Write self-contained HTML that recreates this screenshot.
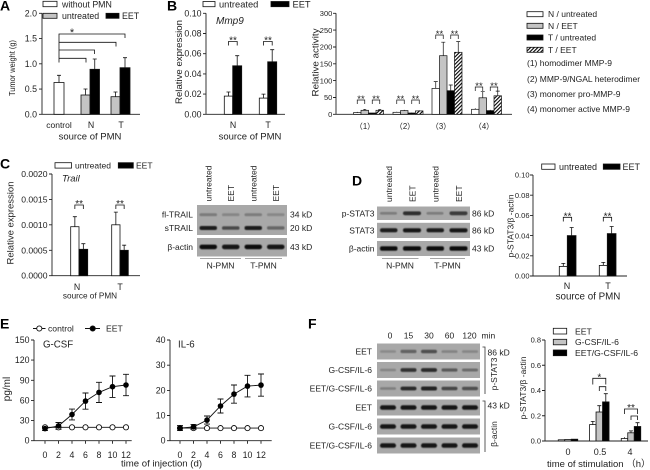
<!DOCTYPE html>
<html><head><meta charset="utf-8"><style>
html,body{margin:0;padding:0;background:#fff}
svg{display:block}
text{font-family:"Liberation Sans",Arial,"Noto Sans CJK SC",sans-serif;fill:#222}
.L{font-weight:bold;font-size:14px;fill:#000}
.tk{font-size:8.8px}
.m{text-anchor:middle}
.e{text-anchor:end}
</style></head><body>
<svg width="650" height="470" viewBox="0 0 650 470" xmlns="http://www.w3.org/2000/svg">
<defs>
<pattern id="h" width="2.6" height="2.6" patternUnits="userSpaceOnUse" patternTransform="rotate(45)"><rect width="2.6" height="2.6" fill="#fff"/><rect width="1.1" height="2.6" fill="#000"/></pattern>
<filter id="bl" x="-20%" y="-80%" width="140%" height="260%"><feGaussianBlur stdDeviation="0.55"/></filter>
</defs>

<!-- ================= PANEL A ================= -->
<text class="L" x="0" y="10.5">A</text>
<g stroke="#111" stroke-width="0.8">
<rect x="43" y="1.3" width="14" height="5.4" fill="#fff"/>
<rect x="43" y="13.3" width="14" height="5" fill="#c4c4c4"/>
<rect x="106" y="13.3" width="13" height="5" fill="#000"/>
</g>
<text x="62" y="7.6" font-size="8.8">without PMN</text>
<text x="62" y="18.9" font-size="8.8">untreated</text>
<text x="122" y="18.9" font-size="8.8">EET</text>
<g stroke="#222" stroke-width="0.9" fill="none">
<path d="M42 13.3V114.3H140M39 13.3H42M39 38.6H42M39 63.8H42M39 89.1H42M39 114.3H42"/>
</g>
<g class="tk e">
<text x="37" y="16.3" class="e">2.0</text><text x="37" y="41.6" class="e">1.5</text><text x="37" y="66.8" class="e">1.0</text><text x="37" y="92.1" class="e">0.5</text><text x="37" y="117.3" class="e">0.0</text>
</g>
<g stroke="#111" stroke-width="0.8">
<rect x="54" y="82.5" width="10" height="31.8" fill="#fff"/>
<rect x="81" y="95" width="9" height="19.3" fill="#c4c4c4"/>
<rect x="90" y="69.3" width="9.5" height="45" fill="#000"/>
<rect x="111" y="96.7" width="9" height="17.6" fill="#c4c4c4"/>
<rect x="120" y="67.7" width="10" height="46.6" fill="#000"/>
<path fill="none" d="M59 82.5V75.3M57 75.3H61M85.5 95V89M83.5 89H87.5M94.75 69.3V59M92.75 59H96.75M115.5 96.7V92M113.5 92H117.5M125 67.7V57.7M123 57.7H127"/>
<path fill="none" d="M59 62.5V34H125V38M59 42.3H116V46.5M59 50H94.5V54M59 58.3H86V62.5"/>
</g>
<text x="72" y="36" font-size="11" class="m">*</text>
<text x="59" y="128" font-size="8.5" class="m">control</text>
<text x="91" y="128" font-size="8.8" class="m">N</text>
<text x="121" y="128" font-size="8.8" class="m">T</text>
<text x="90" y="139.5" font-size="9.5" class="m">source of PMN</text>
<text transform="translate(15,68) rotate(-90)" font-size="8.6" class="m" textLength="56" lengthAdjust="spacingAndGlyphs">Tumor weight (g)</text>

<!-- ================= PANEL B left ================= -->
<text class="L" x="167" y="10.5">B</text>
<g stroke="#111" stroke-width="0.8">
<rect x="203" y="1.5" width="12" height="5.2" fill="#fff"/>
<rect x="271" y="1.5" width="18" height="5.2" fill="#000"/>
</g>
<text x="219" y="7.6" font-size="9.3">untreated</text>
<text x="292.5" y="7.6" font-size="9.3">EET</text>
<g stroke="#222" stroke-width="0.9" fill="none">
<path d="M206 13.3V114.3H285M203 13.3H206M203 33.5H206M203 53.7H206M203 73.9H206M203 94.1H206M203 114.3H206"/>
</g>
<g class="tk">
<text x="201.5" y="16.3" class="e">0.10</text><text x="201.5" y="36.5" class="e">0.08</text><text x="201.5" y="56.7" class="e">0.06</text><text x="201.5" y="76.9" class="e">0.04</text><text x="201.5" y="97.1" class="e">0.02</text><text x="201.5" y="117.3" class="e">0.00</text>
</g>
<g stroke="#111" stroke-width="0.8">
<rect x="224.3" y="96.1" width="8.4" height="18.2" fill="#fff"/>
<rect x="232.7" y="65.8" width="9" height="48.5" fill="#000"/>
<rect x="259.3" y="98.1" width="8.4" height="16.2" fill="#fff"/>
<rect x="267.7" y="61.8" width="9" height="52.5" fill="#000"/>
<path fill="none" d="M228.5 96.1V92M226.5 92H230.5M237.2 65.8V55.7M235.2 55.7H239.2M263.5 98.1V94.1M261.5 94.1H265.5M272.2 61.8V49.7M270.2 49.7H274.2"/>
<path fill="none" d="M228.5 45.5V41.5H237.2V45.5M263.5 45.5V41.5H272.2V45.5"/>
</g>
<text x="233" y="43.5" font-size="10" class="m">**</text>
<text x="268" y="43.5" font-size="10" class="m">**</text>
<text x="216" y="24" font-size="10" font-style="italic">Mmp9</text>
<text x="233" y="128" font-size="8.8" class="m">N</text>
<text x="268" y="128" font-size="8.8" class="m">T</text>
<text x="250" y="139.5" font-size="9.5" class="m">source of PMN</text>
<text transform="translate(182,62) rotate(-90)" font-size="9.5" class="m" textLength="84" lengthAdjust="spacingAndGlyphs">Relative expression</text>

<!-- ================= PANEL B right ================= -->
<g stroke="#222" stroke-width="0.9" fill="none">
<path d="M336 13.3V114.3H512M333 13.3H336M333 30.1H336M333 47H336M333 63.8H336M333 80.6H336M333 97.5H336M333 114.3H336"/>
</g>
<g font-size="7.5">
<text x="332.3" y="16" class="e">300</text><text x="332.3" y="32.8" class="e">250</text><text x="332.3" y="49.7" class="e">200</text><text x="332.3" y="66.5" class="e">150</text><text x="332.3" y="83.3" class="e">100</text><text x="332.3" y="100.2" class="e">50</text><text x="332.3" y="117" class="e">0</text>
</g>
<text transform="translate(318.5,62.5) rotate(-90)" font-size="9.5" class="m" textLength="68" lengthAdjust="spacingAndGlyphs">Relative activity</text>
<g stroke="#111" stroke-width="0.7">
<rect x="353.5" y="112.6" width="7.5" height="1.7" fill="#fff"/>
<rect x="361" y="110.3" width="7.5" height="4" fill="#c4c4c4"/>
<rect x="368.5" y="113" width="7.5" height="1.3" fill="#000"/>
<rect x="376" y="110.3" width="7.5" height="4" fill="url(#h)"/>
<rect x="393" y="112.3" width="7.5" height="2" fill="#fff"/>
<rect x="400.5" y="110.6" width="7.5" height="3.7" fill="#c4c4c4"/>
<rect x="408" y="113" width="7.5" height="1.3" fill="#000"/>
<rect x="415.5" y="110.9" width="7.5" height="3.4" fill="url(#h)"/>
<rect x="432" y="88.4" width="7.5" height="25.9" fill="#fff"/>
<rect x="439.5" y="55.7" width="7.5" height="58.6" fill="#c4c4c4"/>
<rect x="447" y="90.7" width="7.5" height="23.6" fill="#000"/>
<rect x="454.5" y="52.3" width="7.5" height="62" fill="url(#h)"/>
<rect x="471.5" y="109.3" width="7.5" height="5" fill="#fff"/>
<rect x="479" y="97.8" width="7.5" height="16.5" fill="#c4c4c4"/>
<rect x="486.5" y="110.6" width="7.5" height="3.7" fill="#000"/>
<rect x="494" y="95.8" width="7.5" height="18.5" fill="url(#h)"/>
<path fill="none" d="M357.25 112.6V111.9M364.75 110.3V109.3M363.25 109.3H366.25M379.75 110.3V109.6M378.25 109.6H381.25
M396.75 112.3V111.8M404.25 110.6V109.9M411.75 113V112.6M419.25 110.9V110.3
M435.75 88.4V81.6M433.75 81.6H437.75M443.25 55.7V42.2M441.25 42.2H445.25M450.75 90.7V85M448.75 85H452.75M458.25 52.3V41.6M456.25 41.6H460.25
M475.25 109.3V108.2M482.75 97.8V91.7M480.75 91.7H484.75M490.25 110.6V109.9M497.75 95.8V91.1M495.75 91.1H499.75"/>
<path fill="none" d="M357.25 104V100H364.75V104M372.25 104V100H379.75V104M396.75 104V100H404.25V104M411.75 104V100H419.25V104
M435.75 39V35H443.25V39M450.75 39V35H458.25V39M475.25 91V87H482.75V91M490.25 91V87H497.75V91"/>
</g>
<g font-size="9.5" class="m">
<text x="361" y="102" class="m">**</text><text x="376" y="102" class="m">**</text>
<text x="400.5" y="102" class="m">**</text><text x="415.5" y="102" class="m">**</text>
<text x="439.5" y="37" class="m">**</text><text x="454.5" y="37" class="m">**</text>
<text x="479" y="89" class="m">**</text><text x="494" y="89" class="m">**</text>
</g>
<g font-size="7.8">
<text x="365" y="129" class="m">（1）</text><text x="405" y="129" class="m">（2）</text><text x="441" y="129" class="m">（3）</text><text x="484" y="129" class="m">（4）</text>
</g>
<g stroke="#111" stroke-width="0.8">
<rect x="527" y="11.7" width="16" height="5" fill="#fff"/>
<rect x="527" y="23.3" width="16" height="5" fill="#c4c4c4"/>
<rect x="527" y="35" width="16" height="5" fill="#000"/>
<rect x="527" y="47.3" width="16" height="5" fill="url(#h)"/>
</g>
<g font-size="8.5">
<text x="548" y="17.2">N / untreated</text>
<text x="548" y="28.8">N / EET</text>
<text x="548" y="40.5">T / untreated</text>
<text x="548" y="52.8">T / EET</text>
<text x="527" y="66">(1) homodimer MMP-9</text>
<text x="527" y="82">(2) MMP-9/NGAL heterodimer</text>
<text x="527" y="97">(3) monomer pro-MMP-9</text>
<text x="527" y="112">(4) monomer active MMP-9</text>
</g>

<!-- ================= PANEL C ================= -->
<text class="L" x="0" y="168.5">C</text>
<g stroke="#111" stroke-width="0.8">
<rect x="55" y="162.7" width="16.5" height="5.4" fill="#fff"/>
<rect x="118.3" y="162.7" width="15" height="5.4" fill="#000"/>
</g>
<text x="75" y="168.6" font-size="8.5">untreated</text>
<text x="136" y="168.6" font-size="8.5">EET</text>
<text x="62" y="181.5" font-size="9.5" font-style="italic">Trail</text>
<g stroke="#222" stroke-width="0.9" fill="none">
<path d="M52 174V275.7H140M49 174H52M49 199.4H52M49 224.8H52M49 250.3H52M49 275.7H52"/>
</g>
<g font-size="8.6">
<text x="47.5" y="177" class="e">0.0020</text><text x="47.5" y="202.4" class="e">0.0015</text><text x="47.5" y="227.8" class="e">0.0010</text><text x="47.5" y="253.3" class="e">0.0005</text><text x="47.5" y="278.7" class="e">0.0000</text>
</g>
<g stroke="#111" stroke-width="0.8">
<rect x="70.7" y="226.7" width="8.3" height="49" fill="#fff"/>
<rect x="79" y="249.3" width="8.7" height="26.4" fill="#000"/>
<rect x="111.7" y="224.8" width="8.3" height="50.9" fill="#fff"/>
<rect x="120" y="250.3" width="8.3" height="25.4" fill="#000"/>
<path fill="none" d="M74.85 226.7V216.7M72.85 216.7H76.85M83.35 249.3V243.7M81.35 243.7H85.35M115.85 224.8V212.1M113.85 212.1H117.85M124.15 250.3V245.2M122.15 245.2H126.15"/>
<path fill="none" d="M74.85 209V205H83.35V209M115.85 209V205H124.15V209"/>
</g>
<text x="79.1" y="207" font-size="10" class="m">**</text>
<text x="120" y="207" font-size="10" class="m">**</text>
<text x="77" y="290" font-size="8.8" class="m">N</text>
<text x="120" y="290" font-size="8.8" class="m">T</text>
<text x="90" y="298.5" font-size="8.2" class="m">source of PMN</text>
<text transform="translate(13.5,223) rotate(-90)" font-size="9.5" class="m" textLength="83" lengthAdjust="spacingAndGlyphs">Relative expression</text>

<!-- C blot -->
<rect x="197" y="205" width="90" height="30" fill="#a8a8a8"/>
<rect x="197" y="238" width="90" height="18.5" fill="#a8a8a8"/>
<g filter="url(#bl)">
<rect x="199.5" y="213.3" width="17.5" height="2.8" rx="1.4" fill="#7a7a7a"/>
<rect x="222" y="213.3" width="17.5" height="2.8" rx="1.4" fill="#868686"/>
<rect x="244.5" y="213.3" width="17.5" height="2.8" rx="1.4" fill="#7c7c7c"/>
<rect x="267" y="213.3" width="17.5" height="2.8" rx="1.4" fill="#888"/>
<rect x="199.5" y="226" width="17.5" height="4" rx="2" fill="#1c1c1c"/>
<rect x="222" y="226.3" width="17.5" height="3.5" rx="1.7" fill="#4a4a4a"/>
<rect x="244.5" y="226" width="17.5" height="4" rx="2" fill="#1c1c1c"/>
<rect x="267" y="226.3" width="17.5" height="3.3" rx="1.6" fill="#666"/>
<rect x="199.5" y="244.6" width="17.5" height="4.6" rx="2.2" fill="#111"/>
<rect x="222" y="244.6" width="17.5" height="4.6" rx="2.2" fill="#141414"/>
<rect x="244.5" y="244.6" width="17.5" height="4.6" rx="2.2" fill="#111"/>
<rect x="267" y="244.6" width="17.5" height="4.6" rx="2.2" fill="#141414"/>
</g>
<g font-size="8.5">
<text x="193" y="217.5" class="e">fl-TRAIL</text>
<text x="193" y="231" class="e">sTRAIL</text>
<text x="193" y="250" class="e">β-actin</text>
<text x="290" y="217.5">34 kD</text>
<text x="290" y="231">20 kD</text>
<text x="290" y="250">43 kD</text>
<text transform="translate(211.5,201.5) rotate(-90)">untreated</text>
<text transform="translate(234,201.5) rotate(-90)">EET</text>
<text transform="translate(256.5,201.5) rotate(-90)">untreated</text>
<text transform="translate(279,201.5) rotate(-90)">EET</text>
<text x="220.5" y="268.5" class="m">N-PMN</text>
<text x="263.5" y="268.5" class="m">T-PMN</text>
</g>
<path d="M200 258.5H241M245 258.5H282" stroke="#888" stroke-width="0.8"/>

<!-- ================= PANEL D ================= -->
<text class="L" x="352" y="185.5">D</text>
<rect x="377" y="206.5" width="93" height="13.5" fill="#a8a8a8"/>
<rect x="377" y="222.8" width="93" height="15.2" fill="#a8a8a8"/>
<rect x="377" y="241" width="93" height="15" fill="#a8a8a8"/>
<g filter="url(#bl)">
<rect x="380" y="212" width="17" height="2.6" rx="1.3" fill="#7c7c7c"/>
<rect x="403" y="211.4" width="18" height="3.8" rx="1.9" fill="#2e2e2e"/>
<rect x="426.5" y="212" width="17" height="2.6" rx="1.3" fill="#7c7c7c"/>
<rect x="449.5" y="211.4" width="18" height="3.8" rx="1.9" fill="#3a3a3a"/>
<rect x="380" y="228.3" width="17.5" height="4" rx="2" fill="#1c1c1c"/>
<rect x="403" y="228.2" width="18" height="4.2" rx="2" fill="#141414"/>
<rect x="426.5" y="228.3" width="17.5" height="4" rx="2" fill="#1c1c1c"/>
<rect x="449.5" y="228.2" width="18" height="4.2" rx="2" fill="#141414"/>
<rect x="380" y="246.3" width="17.5" height="4.4" rx="2" fill="#111"/>
<rect x="403" y="246.3" width="18" height="4.4" rx="2" fill="#111"/>
<rect x="426.5" y="246.3" width="17.5" height="4.4" rx="2" fill="#111"/>
<rect x="449.5" y="246.3" width="18" height="4.4" rx="2" fill="#111"/>
</g>
<g font-size="8.5">
<text x="374.5" y="216.5" class="e">p-STAT3</text>
<text x="374.5" y="233.5" class="e">STAT3</text>
<text x="374.5" y="251.5" class="e">β-actin</text>
<text x="472" y="216.5">86 kD</text>
<text x="472" y="233.5">86 kD</text>
<text x="472" y="251.5">43 kD</text>
<text transform="translate(392,202) rotate(-90)">untreated</text>
<text transform="translate(415.5,202) rotate(-90)">EET</text>
<text transform="translate(438.5,202) rotate(-90)">untreated</text>
<text transform="translate(462,202) rotate(-90)">EET</text>
<text x="400" y="268.5" class="m">N-PMN</text>
<text x="447.5" y="268.5" class="m">T-PMN</text>
</g>
<path d="M382 258.5H418.5M430 258.5H465" stroke="#888" stroke-width="0.8"/>

<!-- D chart -->
<g stroke="#111" stroke-width="0.8">
<rect x="541.7" y="164" width="13.3" height="5.3" fill="#fff"/>
<rect x="603.3" y="164" width="16.7" height="5.3" fill="#000"/>
</g>
<text x="559" y="169.8" font-size="9">untreated</text>
<text x="622.5" y="169.8" font-size="9">EET</text>
<g stroke="#222" stroke-width="0.9" fill="none">
<path d="M533 175V276H627M530 175H533M530 195.2H533M530 215.4H533M530 235.6H533M530 255.8H533M530 276H533"/>
</g>
<g font-size="7.5">
<text x="529.5" y="177.7" class="e">0.10</text><text x="529.5" y="197.9" class="e">0.08</text><text x="529.5" y="218.1" class="e">0.06</text><text x="529.5" y="238.3" class="e">0.04</text><text x="529.5" y="258.5" class="e">0.02</text><text x="529.5" y="278.7" class="e">0.00</text>
</g>
<g stroke="#111" stroke-width="0.8">
<rect x="559.3" y="266.4" width="8" height="9.6" fill="#fff"/>
<rect x="567.3" y="235.6" width="8.7" height="40.4" fill="#000"/>
<rect x="599.3" y="265.4" width="8" height="10.6" fill="#fff"/>
<rect x="607.3" y="233.6" width="8.7" height="42.4" fill="#000"/>
<path fill="none" d="M563.3 266.4V263.4M561.3 263.4H565.3M571.65 235.6V227.5M569.65 227.5H573.65M603.3 265.4V262.4M601.3 262.4H605.3M611.65 233.6V226.5M609.65 226.5H613.65"/>
<path fill="none" d="M563.3 221.5V217.3H571.65V221.5M603.3 221.5V217.3H611.65V221.5"/>
</g>
<text x="567.5" y="219.3" font-size="10" class="m">**</text>
<text x="607.5" y="219.3" font-size="10" class="m">**</text>
<text x="567" y="289" font-size="9" class="m">N</text>
<text x="608" y="289" font-size="9" class="m">T</text>
<text x="588" y="299.5" font-size="9.8" class="m">source of PMN</text>
<text transform="translate(513.5,226) rotate(-90)" font-size="8.6" class="m" textLength="63" lengthAdjust="spacingAndGlyphs">p-STAT3/β -actin</text>

<!-- ================= PANEL E ================= -->
<text class="L" x="0" y="328.5">E</text>
<g stroke="#111" stroke-width="0.9">
<path d="M33 328.5H45.5M85 328.5H100"/>
<circle cx="39.3" cy="328.5" r="2.6" fill="#fff"/>
<circle cx="92.7" cy="328.5" r="2.6" fill="#000"/>
</g>
<text x="48" y="331.5" font-size="8.6">control</text>
<text x="106" y="331.5" font-size="8.6">EET</text>

<g stroke="#222" stroke-width="0.9" fill="none">
<path d="M34 340V440.7H131.7M31 340H34M31 360.1H34M31 380.3H34M31 400.4H34M31 420.6H34M31 440.7H34"/>
<path d="M45 440.7v3M58.5 440.7v3M72 440.7v3M85.5 440.7v3M99 440.7v3M112.5 440.7v3M126 440.7v3"/>
<path d="M170 340V440.7H271.7M167 340H170M167 365.2H170M167 390.4H170M167 415.5H170M167 440.7H170"/>
<path d="M180 440.7v3M193.5 440.7v3M207 440.7v3M220.5 440.7v3M234 440.7v3M247.5 440.7v3M261 440.7v3"/>
</g>
<g class="tk">
<text x="29.5" y="343" class="e">150</text><text x="29.5" y="363.1" class="e">120</text><text x="29.5" y="383.3" class="e">90</text><text x="29.5" y="403.4" class="e">60</text><text x="29.5" y="423.6" class="e">30</text><text x="29.5" y="443.7" class="e">0</text>
<text x="45" y="458" class="m">0</text><text x="58.5" y="458" class="m">2</text><text x="72" y="458" class="m">4</text><text x="85.5" y="458" class="m">6</text><text x="99" y="458" class="m">8</text><text x="112.5" y="458" class="m">10</text><text x="126" y="458" class="m">12</text>
<text x="165.5" y="343" class="e">40</text><text x="165.5" y="368.2" class="e">30</text><text x="165.5" y="393.4" class="e">20</text><text x="165.5" y="418.5" class="e">10</text><text x="165.5" y="443.7" class="e">0</text>
<text x="180" y="458" class="m">0</text><text x="193.5" y="458" class="m">2</text><text x="207" y="458" class="m">4</text><text x="220.5" y="458" class="m">6</text><text x="234" y="458" class="m">8</text><text x="247.5" y="458" class="m">10</text><text x="261" y="458" class="m">12</text>
</g>
<text x="43" y="347.5" font-size="9.7">G-CSF</text>
<text x="178" y="347.5" font-size="9.7">IL-6</text>
<text x="161.5" y="466.5" font-size="9.6" class="m">time of injection (d)</text>
<text transform="translate(10,389) rotate(-90)" font-size="10" class="m">pg/ml</text>

<g stroke="#111" stroke-width="0.9" fill="none">
<path d="M45 425.3V429.3M58.5 425.3V429.3M72 425.3V429.3M85.5 425.3V429.3M99 425.3V429.3M112.5 425.3V429.3M126 425.3V429.3"/>
<path d="M45 427.3H126"/>
<path d="M45 426.6V430.6M42 426.6H48M42 430.6H48M58.5 422.5V429.3M55.5 422.5H61.5M55.5 429.3H61.5M72 409.1V419.9M69 409.1H75M69 419.9H75M85.5 393V409.2M82.5 393H88.5M82.5 409.2H88.5M99 382.3V402.5M96 382.3H102M96 402.5H102M112.5 376V397.4M109.5 376H115.5M109.5 397.4H115.5M126 374.3V395.7M123 374.3H129M123 395.7H129"/>
<polyline points="45,428.6 58.5,425.9 72,414.5 85.5,401.1 99,392.4 112.5,386.7 126,385"/>
</g>
<g stroke="#111" stroke-width="0.9" fill="#fff">
<circle cx="45" cy="427.3" r="2.6"/><circle cx="58.5" cy="427.3" r="2.6"/><circle cx="72" cy="427.3" r="2.6"/><circle cx="85.5" cy="427.3" r="2.6"/><circle cx="99" cy="427.3" r="2.6"/><circle cx="112.5" cy="427.3" r="2.6"/><circle cx="126" cy="427.3" r="2.6"/>
</g>
<g fill="#000">
<circle cx="45" cy="428.6" r="2.8"/><circle cx="58.5" cy="425.9" r="2.8"/><circle cx="72" cy="414.5" r="2.8"/><circle cx="85.5" cy="401.1" r="2.8"/><circle cx="99" cy="392.4" r="2.8"/><circle cx="112.5" cy="386.7" r="2.8"/><circle cx="126" cy="385" r="2.8"/>
</g>

<g stroke="#111" stroke-width="0.9" fill="none">
<path d="M180 428.1H261"/>
<path d="M180 425.6V430.6M177 425.6H183M177 430.6H183M193.5 424.4V429.4M190.5 424.4H196.5M190.5 429.4H196.5M207 416V424.1M204 416H210M204 424.1H210M220.5 399V413M217.5 399H223.5M217.5 413H223.5M234 385V403.2M231 385H237M231 403.2H237M247.5 375.3V396.9M244.5 375.3H250.5M244.5 396.9H250.5M261 374V396.2M258 374H264M258 396.2H264"/>
<polyline points="180,428.1 193.5,426.9 207,420.1 220.5,406 234,394.1 247.5,386.1 261,385.1"/>
</g>
<g stroke="#111" stroke-width="0.9" fill="#fff">
<circle cx="180" cy="428.1" r="2.6"/><circle cx="193.5" cy="428.1" r="2.6"/><circle cx="207" cy="428.1" r="2.6"/><circle cx="220.5" cy="428.1" r="2.6"/><circle cx="234" cy="428.1" r="2.6"/><circle cx="247.5" cy="428.1" r="2.6"/><circle cx="261" cy="428.1" r="2.6"/>
</g>
<g fill="#000">
<circle cx="180" cy="428.1" r="2.8"/><circle cx="193.5" cy="426.9" r="2.8"/><circle cx="207" cy="420.1" r="2.8"/><circle cx="220.5" cy="406" r="2.8"/><circle cx="234" cy="394.1" r="2.8"/><circle cx="247.5" cy="386.1" r="2.8"/><circle cx="261" cy="385.1" r="2.8"/>
</g>

<!-- ================= PANEL F ================= -->
<text class="L" x="308" y="328.5">F</text>
<g font-size="8.5">
<text x="390" y="338.5" class="m">0</text><text x="408.5" y="338.5" class="m">15</text><text x="429" y="338.5" class="m">30</text><text x="449.5" y="338.5" class="m">60</text><text x="469.5" y="338.5" class="m">120</text><text x="481.5" y="338.5">min</text>
<text x="372" y="354.5" class="e">EET</text>
<text x="372" y="373" class="e">G-CSF/IL-6</text>
<text x="372" y="391.5" class="e">EET/G-CSF/IL-6</text>
<text x="372" y="410.5" class="e">EET</text>
<text x="372" y="429.5" class="e">G-CSF/IL-6</text>
<text x="372" y="448.5" class="e">EET/G-CSF/IL-6</text>
<text x="487.5" y="355.5">86 kD</text>
<text x="487.5" y="408.5">43 kD</text>
<text transform="translate(497,374) rotate(-90)" class="m">p-STAT3</text>
<text transform="translate(497,434) rotate(-90)" class="m">β-actin</text>
</g>
<g fill="#a8a8a8">
<rect x="377" y="343.5" width="103" height="16"/>
<rect x="377" y="362" width="103" height="16"/>
<rect x="377" y="380.5" width="103" height="16"/>
<rect x="377" y="399.5" width="103" height="16"/>
<rect x="377" y="418.5" width="103" height="16"/>
<rect x="377" y="437.5" width="103" height="16"/>
</g>
<g filter="url(#bl)">
<rect x="380" y="350.2" width="16" height="2.6" rx="1.3" fill="#8a8a8a"/>
<rect x="400.5" y="349.8" width="16" height="3.3" rx="1.6" fill="#636363"/>
<rect x="421" y="349.7" width="16" height="3.6" rx="1.8" fill="#505050"/>
<rect x="441.5" y="350.2" width="16" height="2.7" rx="1.3" fill="#828282"/>
<rect x="462" y="350.2" width="16" height="2.7" rx="1.3" fill="#868686"/>
<rect x="380" y="368.7" width="16" height="2.6" rx="1.3" fill="#858585"/>
<rect x="400.5" y="368.1" width="16" height="3.8" rx="1.9" fill="#303030"/>
<rect x="421" y="368.1" width="16" height="3.8" rx="1.9" fill="#2a2a2a"/>
<rect x="441.5" y="368.4" width="16" height="3.2" rx="1.6" fill="#5a5a5a"/>
<rect x="462" y="368.5" width="16" height="3" rx="1.5" fill="#6c6c6c"/>
<rect x="380" y="387.2" width="16" height="2.6" rx="1.3" fill="#7e7e7e"/>
<rect x="400.5" y="386.6" width="16" height="3.8" rx="1.9" fill="#2a2a2a"/>
<rect x="421" y="386.5" width="16" height="4" rx="2" fill="#222"/>
<rect x="441.5" y="386.8" width="16" height="3.4" rx="1.7" fill="#454545"/>
<rect x="462" y="386.8" width="16" height="3.4" rx="1.7" fill="#505050"/>
<rect x="380" y="405.3" width="16" height="4.5" rx="2.2" fill="#141414"/>
<rect x="400.5" y="405.3" width="16" height="4.5" rx="2.2" fill="#141414"/>
<rect x="421" y="405.3" width="16" height="4.5" rx="2.2" fill="#141414"/>
<rect x="441.5" y="405.3" width="16" height="4.5" rx="2.2" fill="#141414"/>
<rect x="462" y="405.3" width="16" height="4.5" rx="2.2" fill="#141414"/>
<rect x="380" y="424.3" width="16" height="4.5" rx="2.2" fill="#141414"/>
<rect x="400.5" y="424.3" width="16" height="4.5" rx="2.2" fill="#141414"/>
<rect x="421" y="424.3" width="16" height="4.5" rx="2.2" fill="#141414"/>
<rect x="441.5" y="424.3" width="16" height="4.5" rx="2.2" fill="#141414"/>
<rect x="462" y="424.3" width="16" height="4.5" rx="2.2" fill="#141414"/>
<rect x="380" y="443.3" width="16" height="4.5" rx="2.2" fill="#141414"/>
<rect x="400.5" y="443.3" width="16" height="4.5" rx="2.2" fill="#141414"/>
<rect x="421" y="443.3" width="16" height="4.5" rx="2.2" fill="#141414"/>
<rect x="441.5" y="443.3" width="16" height="4.5" rx="2.2" fill="#141414"/>
<rect x="462" y="443.3" width="16" height="4.5" rx="2.2" fill="#141414"/>
</g>
<path d="M482.5 347H485V394M482.5 401H485V452" stroke="#333" stroke-width="0.8" fill="none"/>

<g stroke="#111" stroke-width="0.8">
<rect x="553.3" y="328.3" width="13.4" height="5.7" fill="#fff"/>
<rect x="553.3" y="339.3" width="13.4" height="5.5" fill="#c4c4c4"/>
<rect x="553.3" y="350" width="13.4" height="5.7" fill="#000"/>
</g>
<g font-size="8.6">
<text x="575" y="334.6">EET</text>
<text x="575" y="345.2">G-CSF/IL-6</text>
<text x="575" y="356">EET/G-CSF/IL-6</text>
</g>
<g stroke="#222" stroke-width="0.9" fill="none">
<path d="M545 340V441H648M542 340H545M542 365.25H545M542 390.5H545M542 415.75H545M542 441H545"/>
</g>
<g font-size="7.5">
<text x="541" y="342.7" class="e">0.8</text><text x="541" y="367.95" class="e">0.6</text><text x="541" y="393.2" class="e">0.4</text><text x="541" y="418.45" class="e">0.2</text><text x="541" y="443.7" class="e">0.0</text>
</g>
<g font-size="9">
<text x="568" y="455" class="m">0</text><text x="600" y="455" class="m">0.5</text><text x="630" y="455" class="m">4</text>
</g>
<g stroke="#111" stroke-width="0.8">
<rect x="558.25" y="439.8" width="6.5" height="1.2" fill="#fff"/>
<rect x="564.75" y="439.5" width="6.5" height="1.5" fill="#c4c4c4"/>
<rect x="571.25" y="439.2" width="6.5" height="1.8" fill="#000"/>
<rect x="589.55" y="424.6" width="6.5" height="16.4" fill="#fff"/>
<rect x="596.05" y="412" width="6.5" height="29" fill="#c4c4c4"/>
<rect x="602.55" y="401.9" width="6.5" height="39.1" fill="#000"/>
<rect x="621.25" y="438.5" width="6.5" height="2.5" fill="#fff"/>
<rect x="627.75" y="432.8" width="6.5" height="8.2" fill="#c4c4c4"/>
<rect x="634.25" y="426.5" width="6.5" height="14.5" fill="#000"/>
<path fill="none" d="M592.8 424.6V421.4M590.8 421.4H594.8M599.3 412V405.7M597.3 405.7H601.3M605.8 401.9V393.7M603.8 393.7H607.8M624.5 438.5V437.2M631 432.8V430.9M629 430.9H633M637.5 426.5V422.7M635.5 422.7H639.5"/>
<path fill="none" d="M592.8 384.5V378.3H605.8V384.5M599.3 391V386.7H605.8V391M624.5 414V409H637.5V414M631 420V416H637.5V420"/>
</g>
<text x="599.3" y="380.5" font-size="10" class="m">*</text>
<text x="631" y="411" font-size="10" class="m">**</text>
<text x="547" y="467" font-size="9.5">time of stimulation （h）</text>
<text transform="translate(526,388) rotate(-90)" font-size="8.6" class="m" textLength="63" lengthAdjust="spacingAndGlyphs">p-STAT3/β -actin</text>
</svg>
</body></html>
